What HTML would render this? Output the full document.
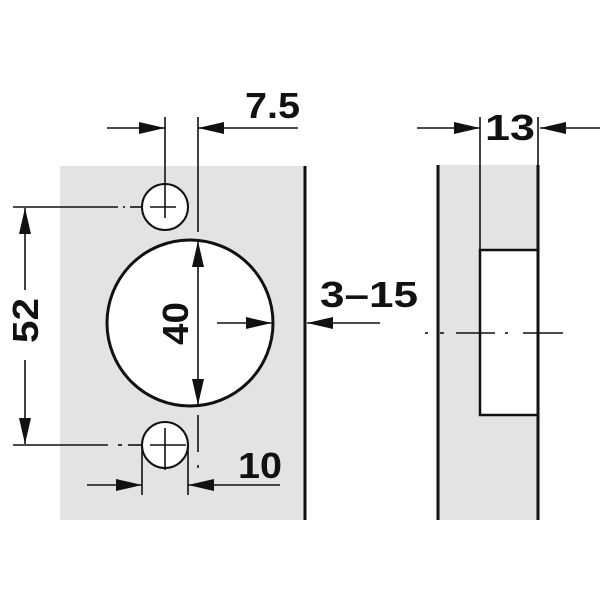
<!DOCTYPE html>
<html><head><style>body{margin:0;background:#fff}svg{display:block}</style></head><body>
<svg width="600" height="600" viewBox="0 0 600 600" xmlns="http://www.w3.org/2000/svg">
<defs>
<marker id="a" viewBox="0 0 10 10" refX="10" refY="5" markerWidth="26" markerHeight="12" markerUnits="userSpaceOnUse" orient="auto" preserveAspectRatio="none"><path d="M0,0 L10,5 L0,10 z" fill="#111"/></marker>
</defs>
<rect x="60" y="166" width="245" height="354" fill="#e2e3e5"/>
<line x1="305" y1="166" x2="305" y2="520" stroke="#111" stroke-width="3"/>
<g stroke="#111" fill="#fff" stroke-width="2">
<circle cx="165" cy="207" r="23"/>
<circle cx="165" cy="445" r="23"/>
<circle cx="190" cy="323" r="83" stroke-width="3"/>
</g>
<g stroke="#111" stroke-width="1.6" fill="none">
<line x1="165" y1="117" x2="165" y2="218"/><line x1="150" y1="207" x2="176" y2="207"/>
<line x1="198" y1="117" x2="198" y2="232"/>
<line x1="198" y1="415" x2="198" y2="452"/><line x1="198" y1="465" x2="198" y2="468"/>
<line x1="165" y1="428" x2="165" y2="470"/><line x1="150" y1="445" x2="186" y2="445"/>
<line x1="142" y1="445" x2="142" y2="495"/><line x1="188" y1="445" x2="188" y2="495"/>
<line x1="13" y1="207" x2="118" y2="207"/><line x1="123" y1="207" x2="125" y2="207"/><line x1="130" y1="207" x2="142" y2="207"/>
<line x1="13" y1="445" x2="108" y2="445"/><line x1="118" y1="445" x2="122" y2="445"/><line x1="128" y1="445" x2="142" y2="445"/>
<line x1="107" y1="128" x2="165" y2="128" marker-end="url(#a)"/>
<line x1="298" y1="128" x2="198" y2="128" marker-end="url(#a)"/>
<line x1="25" y1="290" x2="25" y2="208" marker-end="url(#a)"/>
<line x1="25" y1="360" x2="25" y2="444" marker-end="url(#a)"/>
<line x1="198" y1="323" x2="198" y2="241" marker-end="url(#a)"/>
<line x1="198" y1="323" x2="198" y2="405" marker-end="url(#a)"/>
<line x1="217" y1="323" x2="272" y2="323" marker-end="url(#a)"/>
<line x1="87" y1="485" x2="142" y2="485" marker-end="url(#a)"/>
<line x1="280" y1="485" x2="188" y2="485" marker-end="url(#a)"/>
<line x1="380" y1="323" x2="307" y2="323" marker-end="url(#a)"/>
</g>
<rect x="438" y="165" width="100" height="355" fill="#e2e3e5"/>
<rect x="480" y="250" width="58" height="165" fill="#fff" stroke="#111" stroke-width="2.5"/>
<line x1="438" y1="165" x2="438" y2="520" stroke="#111" stroke-width="3"/>
<line x1="538" y1="165" x2="538" y2="520" stroke="#111" stroke-width="3"/>
<g stroke="#111" stroke-width="1.6">
<line x1="480" y1="117" x2="480" y2="250"/><line x1="538" y1="117" x2="538" y2="165"/>
<line x1="417" y1="128" x2="480" y2="128" marker-end="url(#a)"/>
<line x1="600" y1="128" x2="540" y2="128" marker-end="url(#a)"/>
<line x1="425" y1="333" x2="428" y2="333"/><line x1="440" y1="333" x2="444" y2="333"/>
<line x1="456" y1="333" x2="495" y2="333"/><line x1="505" y1="333" x2="508" y2="333"/><line x1="523" y1="333" x2="563" y2="333"/>
</g>
<g font-family="Liberation Sans, sans-serif" font-weight="bold" fill="#111" font-size="36">
<text x="245" y="118" textLength="55" lengthAdjust="spacingAndGlyphs">7.5</text>
<text x="238" y="478" textLength="44" lengthAdjust="spacingAndGlyphs">10</text>
<text x="320" y="307" textLength="98" lengthAdjust="spacingAndGlyphs">3–15</text>
<text x="485" y="140" textLength="50" lengthAdjust="spacingAndGlyphs">13</text>
<text transform="translate(38,343) rotate(-90)" textLength="45" lengthAdjust="spacingAndGlyphs">52</text>
<text transform="translate(188,345) rotate(-90)" textLength="43" lengthAdjust="spacingAndGlyphs">40</text>
</g>
</svg>
</body></html>
